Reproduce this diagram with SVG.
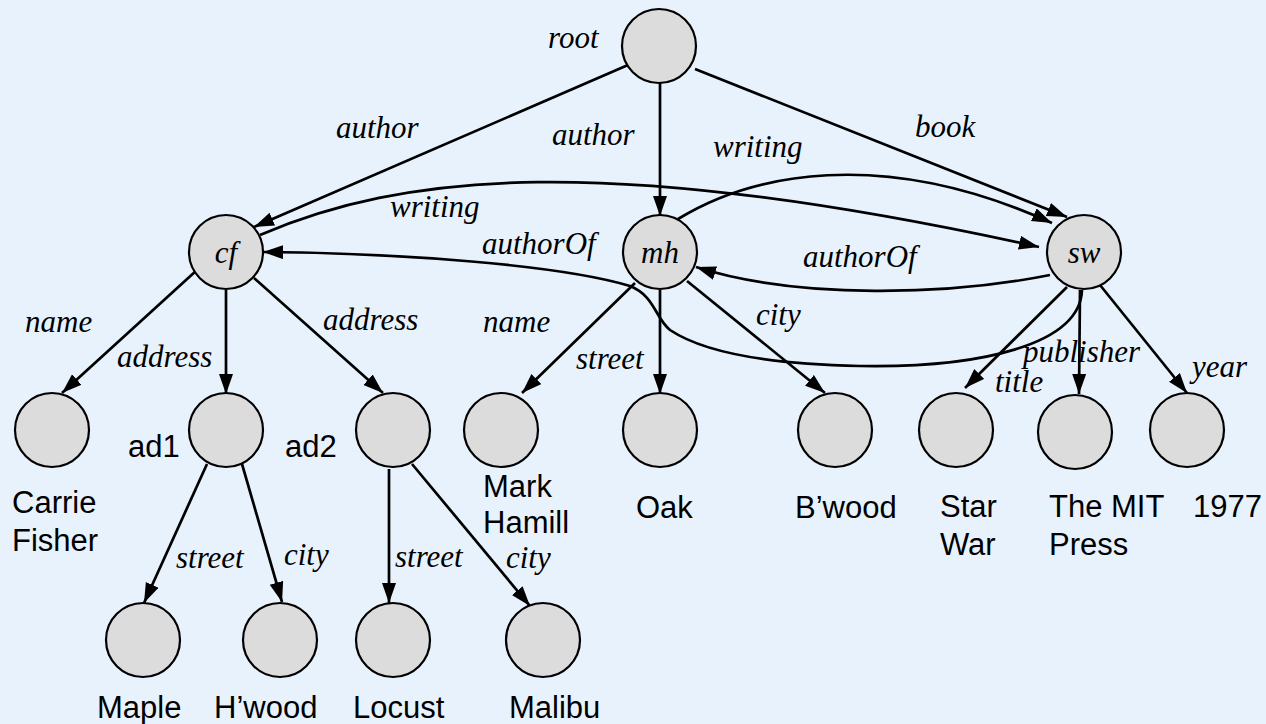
<svg xmlns="http://www.w3.org/2000/svg" width="1266" height="724" viewBox="0 0 1266 724">
<style>
.bg{fill:#E8F2FC}
.n{fill:#DCDCDC;stroke:#000;stroke-width:2.2}
.e{fill:none;stroke:#000;stroke-width:2.7;marker-end:url(#ah)}
.lab{font-family:"Liberation Serif","Times New Roman",serif;font-style:italic;font-size:31px;fill:#000}
.val{font-family:"Liberation Sans",Arial,sans-serif;font-size:31px;fill:#000}
</style>
<defs>
<marker id="ah" markerUnits="userSpaceOnUse" markerWidth="22" markerHeight="16" refX="20" refY="7" orient="auto">
<path d="M0,0 L20,7 L0,14 z" fill="#000"/>
</marker>
</defs>
<rect class="bg" x="0" y="0" width="1266" height="724"/>
<g id="connectors">
<line class="e" x1="628" y1="65" x2="254" y2="227"/>
<line class="e" x1="660" y1="83" x2="660" y2="216"/>
<line class="e" x1="695" y1="69" x2="1067" y2="217"/>
<path class="e" d="M260,235 C400,175 600,150 1039,247"/>
<path class="e" d="M678,219 C750,175 880,145 1052,223"/>
<path class="e" d="M1050,275 C950,295 800,300 696,267"/>
<path class="e" d="M1082,290 C1080,345 980,368 860,366 C760,364 700,350 670,330 C655,318 655,296 630,286 C560,265 400,253 263,252"/>
<line class="e" x1="197" y1="270" x2="62" y2="393"/>
<line class="e" x1="226" y1="290" x2="226" y2="394"/>
<line class="e" x1="254" y1="278" x2="383" y2="393"/>
<line class="e" x1="635" y1="283" x2="522" y2="393"/>
<line class="e" x1="660" y1="290" x2="660" y2="394"/>
<line class="e" x1="687" y1="281" x2="825" y2="393"/>
<line class="e" x1="1067" y1="287" x2="965" y2="388"/>
<line class="e" x1="1080" y1="290" x2="1079" y2="394"/>
<line class="e" x1="1100" y1="285" x2="1187" y2="393"/>
<line class="e" x1="207" y1="464" x2="144" y2="603"/>
<line class="e" x1="242" y1="464" x2="282" y2="602"/>
<line class="e" x1="389" y1="469" x2="389" y2="603"/>
<line class="e" x1="412" y1="464" x2="530" y2="606"/>
</g>
<g id="edge-labels">
<text class="lab" x="548" y="48">root</text>
<text class="lab" x="336" y="138">author</text>
<text class="lab" x="552" y="145">author</text>
<text class="lab" x="915" y="137">book</text>
<text class="lab" x="713" y="157">writing</text>
<text class="lab" x="390" y="217">writing</text>
<text class="lab" x="482" y="254">authorOf</text>
<text class="lab" x="803" y="267">authorOf</text>
<text class="lab" x="25" y="332">name</text>
<text class="lab" x="117" y="367">address</text>
<text class="lab" x="323" y="330">address</text>
<text class="lab" x="483" y="332">name</text>
<text class="lab" x="576" y="369">street</text>
<text class="lab" x="756" y="325">city</text>
<text class="lab" x="1023" y="362">publisher</text>
<text class="lab" x="995" y="392">title</text>
<text class="lab" x="1192" y="377">year</text>
<text class="lab" x="176" y="568">street</text>
<text class="lab" x="284" y="565">city</text>
<text class="lab" x="395" y="567">street</text>
<text class="lab" x="506" y="568">city</text>
</g>
<g id="root"><circle class="n" cx="659" cy="46" r="37"/></g>
<g id="cf"><circle class="n" cx="226" cy="252" r="37"/><text class="lab" x="226" y="263" text-anchor="middle">cf</text></g>
<g id="mh"><circle class="n" cx="660" cy="252" r="37"/><text class="lab" x="660" y="263" text-anchor="middle">mh</text></g>
<g id="sw"><circle class="n" cx="1084" cy="252" r="37"/><text class="lab" x="1084" y="263" text-anchor="middle">sw</text></g>
<g id="carrie"><circle class="n" cx="52" cy="430" r="37"/><text class="val" x="12" y="513">Carrie</text><text class="val" x="12" y="551">Fisher</text></g>
<g id="ad1"><circle class="n" cx="226" cy="430" r="37"/><text class="val" x="128" y="457">ad1</text></g>
<g id="ad2"><circle class="n" cx="393" cy="430" r="37"/><text class="val" x="285" y="457">ad2</text></g>
<g id="mark"><circle class="n" cx="501" cy="430" r="37"/><text class="val" x="483" y="497">Mark</text><text class="val" x="483" y="533">Hamill</text></g>
<g id="oak"><circle class="n" cx="660" cy="430" r="37"/><text class="val" x="636" y="518">Oak</text></g>
<g id="bwood"><circle class="n" cx="835" cy="430" r="37"/><text class="val" x="795" y="518">B’wood</text></g>
<g id="starwar"><circle class="n" cx="956" cy="430" r="37"/><text class="val" x="940" y="517">Star</text><text class="val" x="940" y="555">War</text></g>
<g id="mit"><circle class="n" cx="1075" cy="432" r="37"/><text class="val" x="1049" y="517">The MIT</text><text class="val" x="1049" y="555">Press</text></g>
<g id="y1977"><circle class="n" cx="1187" cy="430" r="37"/><text class="val" x="1193" y="517">1977</text></g>
<g id="maple"><circle class="n" cx="143" cy="640" r="37"/><text class="val" x="97" y="718">Maple</text></g>
<g id="hwood"><circle class="n" cx="280" cy="640" r="37"/><text class="val" x="214" y="718">H’wood</text></g>
<g id="locust"><circle class="n" cx="393" cy="640" r="37"/><text class="val" x="353" y="718">Locust</text></g>
<g id="malibu"><circle class="n" cx="543" cy="640" r="37"/><text class="val" x="509" y="718">Malibu</text></g>
</svg>
